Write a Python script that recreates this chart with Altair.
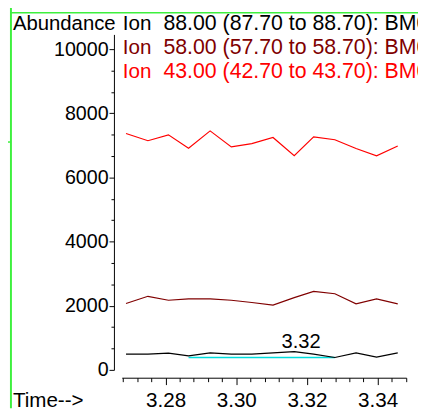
import altair as alt
import pandas as pd

FONT = "Liberation Sans"

# ---- data ----
times = [3.2688, 3.2750, 3.2808, 3.2865, 3.2926, 3.2986, 3.3044,
         3.3104, 3.3164, 3.3219, 3.3279, 3.3339, 3.3397, 3.3457]
ion88 = [489, 489, 520, 438, 530, 489, 489, 530, 571, 489, 387, 530, 398, 530]
ion58 = [2069, 2294, 2171, 2212, 2212, 2171, 2100, 2018, 2253, 2446, 2375, 2059, 2212, 2059]
ion43 = [7370, 7146, 7329, 6911, 7452, 6952, 7054, 7248, 6677, 7268, 7176, 6901, 6677, 6983]

series_names = ["Ion 88", "Ion 58", "Ion 43"]
series_colors = ["#000000", "#800000", "#ff0000"]

baseline_times = [3.2865, 3.3279]
baseline_values = [387, 387]

peak_time = [3.3164]
peak_value = [571]
peak_label = ["3.32"]

header_ion = ["Ion", "Ion", "Ion"]
header_rest = ["88.00 (87.70 to 88.70): BM0",
               "58.00 (57.70 to 58.70): BM0",
               "43.00 (42.70 to 43.70): BM0"]

x_ticks = [3.268, 3.272, 3.276, 3.280, 3.284, 3.288, 3.292, 3.296, 3.300, 3.304,
           3.308, 3.312, 3.316, 3.320, 3.324, 3.328, 3.332, 3.336, 3.340, 3.344, 3.348]
y_ticks = [0, 666.67, 1333.33, 2000, 2666.67, 3333.33, 4000, 4666.67, 5333.33, 6000,
           6666.67, 7333.33, 8000, 8666.67, 9333.33, 10000]

# ---- tables ----
rows = []
for name, vals in zip(series_names, [ion88, ion58, ion43]):
    for t, v in zip(times, vals):
        rows.append({"t": t, "v": v, "s": name})
lines_df = pd.DataFrame(rows)
base_df = pd.DataFrame({"t": baseline_times, "v": baseline_values})
peak_df = pd.DataFrame({"t": peak_time, "v": peak_value, "lab": peak_label})

X_MAJOR = "abs(datum.value*50 - round(datum.value*50)) < 0.01"
Y_MAJOR = "abs(datum.value/2000 - round(datum.value/2000)) < 0.001"

x_scale = alt.Scale(domain=[3.2676, 3.3481], nice=False, zero=False)
y_scale = alt.Scale(domain=[0, 10460], nice=False)

x_axis = alt.Axis(
    values=x_ticks, title=None, offset=8, grid=False,
    domainColor="black", domainWidth=1, tickColor="black", tickWidth=1,
    tickSize={"condition": {"test": X_MAJOR, "value": 7}, "value": 4},
    labelExpr=X_MAJOR + " ? format(datum.value, '.2f') : ''",
    labelFont=FONT, labelFontSize=21, labelColor="black", labelPadding=5,
    labelOverlap=False, labelFlush=False, labelBound=False,
)
y_axis = alt.Axis(
    values=y_ticks, title=None, offset=8, grid=False,
    domainColor="black", domainWidth=1, tickColor="black", tickWidth=1,
    tickSize={"condition": {"test": Y_MAJOR, "value": 5}, "value": 3},
    labelExpr=Y_MAJOR + " ? format(datum.value, 'd') : ''",
    labelFont=FONT, labelFontSize=20, labelColor="black", labelPadding=1,
    labelOverlap=False, labelFlush=False, labelBound=False,
)

X = alt.X("t:Q", scale=x_scale, axis=x_axis)
Y = alt.Y("v:Q", scale=y_scale, axis=y_axis)

baseline = alt.Chart(base_df).mark_line(color="#00dcdc", strokeWidth=1.5).encode(x=X, y=Y)

lines = alt.Chart(lines_df).mark_line(strokeWidth=1.2).encode(
    x=X, y=Y,
    color=alt.Color("s:N", scale=alt.Scale(domain=series_names, range=series_colors), legend=None),
)

peak = alt.Chart(peak_df).mark_text(
    font=FONT, fontSize=20.5, color="black", align="center", baseline="alphabetic", dx=7, dy=-4
).encode(x=X, y=Y, text="lab:N")


def label(txt, px, py, color="black", size=21):
    return alt.Chart(pd.DataFrame({"txt": [txt]})).mark_text(
        font=FONT, fontSize=size, color=color, align="left", baseline="alphabetic"
    ).encode(x=alt.value(px), y=alt.value(py), text="txt:N")


def rule(x1, x2, y1, y2, width):
    return alt.Chart(pd.DataFrame({"k": [0]})).mark_rule(
        color="#3ef03e", strokeWidth=width
    ).encode(x=alt.value(x1), x2=alt.value(x2), y=alt.value(y1), y2=alt.value(y2))


header_y = [-4.3, 19.7, 44]
texts = [label("Abundance", -111, -4.5, size=20.7)]
for txt_i, txt_r, yy, col in zip(header_ion, header_rest, header_y, series_colors):
    texts.append(label(txt_i, 1, yy, col))
    texts.append(label(txt_r, 42.5, yy, col, size=21.7))
texts.append(label("Time-->", -111, 379.5))

green = [
    rule(-113, -113, -31, 381, 2),
    rule(-113, 310, -22.2, -22.2, 1.5),
    rule(-120, -113, 109.7, 109.7, 1.5),
]

chart = alt.layer(baseline, lines, peak, *texts, *green).properties(
    width=290, height=342,
    padding={"left": 116, "top": 23, "right": 12, "bottom": 39},
    autosize="none",
    background="white",
).configure_view(stroke=None)

chart.save("out.html", embed_options={"renderer": "svg", "actions": False})
